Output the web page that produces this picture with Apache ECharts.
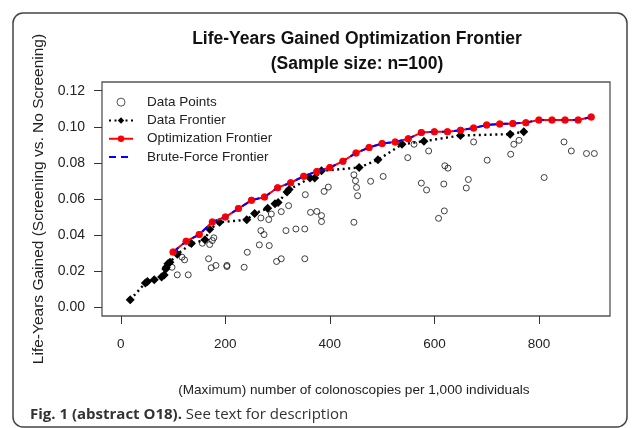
<!DOCTYPE html>
<html>
<head>
<meta charset="utf-8">
<script src="https://cdn.jsdelivr.net/npm/echarts@6/dist/echarts.min.js"></script>
<style>
  html, body { margin: 0; padding: 0; background: #fff; }
  #main { width: 632px; height: 428px; }
</style>
</head>
<body>
<div id="main"></div>
<script>
// 数据：数值

// 散点（Data Points）
let pointsX = [98, 117, 122, 108, 129, 156, 170, 168, 173, 175, 178, 182, 203, 203, 236, 242,
  265, 268, 268, 274, 283, 284, 288, 298, 307, 307, 316, 321, 335, 352, 352, 353, 363, 375,
  384, 384, 389, 397, 446, 446, 449, 451, 453, 478, 502, 549, 561, 575, 585, 589, 608, 619,
  618, 620, 626, 661, 665, 675, 701, 746, 752, 762, 810, 848, 862, 891, 906]
let pointsY = [0.0222, 0.0278, 0.0263, 0.018, 0.018, 0.0355, 0.0348, 0.0269, 0.0219, 0.037,
  0.0385, 0.0232, 0.0232, 0.0226, 0.0222, 0.0305, 0.0346, 0.0425, 0.0495, 0.0403, 0.0486,
  0.0342, 0.0517, 0.0254, 0.0269, 0.053, 0.0425, 0.0563, 0.0434, 0.0434, 0.0269, 0.0624,
  0.0526, 0.0531, 0.0508, 0.0475, 0.0642, 0.0666, 0.0471, 0.0734, 0.0701, 0.0664, 0.0618,
  0.0698, 0.0725, 0.0829, 0.0903, 0.0688, 0.065, 0.0866, 0.0493, 0.0534, 0.0683, 0.0784,
  0.0771, 0.0661, 0.0708, 0.0916, 0.0815, 0.0848, 0.0903, 0.0925, 0.0719, 0.0916, 0.0866,
  0.0852, 0.0852]

// 数据前沿（Data Frontier）
let frontierX = [18, 47, 51, 64, 78, 83, 86, 87, 90, 94, 108, 135, 161, 170, 189, 241, 256,
  281, 295, 301, 318, 322, 362, 371, 384, 456, 492, 538, 580, 650, 745, 771]
let frontierY = [0.0042, 0.0135, 0.0143, 0.0153, 0.0168, 0.0179, 0.0212, 0.0222, 0.0241,
  0.025, 0.0294, 0.0353, 0.0374, 0.0432, 0.0471, 0.0485, 0.052, 0.0549, 0.0574, 0.0581,
  0.0639, 0.0652, 0.0716, 0.0716, 0.0756, 0.0774, 0.0817, 0.0903, 0.092, 0.0952, 0.0959, 0.0973]

// 优化前沿 / 穷举前沿（每 25 次一个约束水平）
let levels = [100, 125, 150, 175, 200, 225, 250, 275, 300, 325, 350, 375, 400, 425, 450, 475,
  500, 525, 550, 575, 600, 625, 650, 675, 700, 725, 750, 775, 800, 825, 850, 875, 900]
let optY = [0.0306, 0.0366, 0.0403, 0.0473, 0.05, 0.0547, 0.0593, 0.0611, 0.0663, 0.069,
  0.0726, 0.0753, 0.0774, 0.0809, 0.0855, 0.0885, 0.0907, 0.0916, 0.0934, 0.0968, 0.0973,
  0.0973, 0.0981, 0.0993, 0.101, 0.1016, 0.1018, 0.1023, 0.1038, 0.1038, 0.1038, 0.1038, 0.1054]
let bruteY = [0.0306, 0.0366, 0.0403, 0.0473, 0.05, 0.0547, 0.0593, 0.0611, 0.0663, 0.069,
  0.0726, 0.0753, 0.0774, 0.0809, 0.0855, 0.0885, 0.0907, 0.0916, 0.0934, 0.0968, 0.0973,
  0.0973, 0.0981, 0.0993, 0.101, 0.1016, 0.1018, 0.1023, 0.1038, 0.1038, 0.1038, 0.1038, 0.1054]

const zip = (xs, ys) => xs.map((x, i) => [x, ys[i]])
const font = "'Liberation Sans', Arial, sans-serif"

// R 风格：框比数据范围各边多 4%
// grid 0 = 绘图框（画数据），grid 1 = y 轴刻度，grid 2 = x 轴刻度
const box = { left: 102, right: 22, top: 82, bottom: 112 }
const xlim = [-36, 936]
const ylim = [-0.0048, 0.1248]
const pxX = (632 - box.left - box.right) / (xlim[1] - xlim[0])
const pxY = (428 - box.top - box.bottom) / (ylim[1] - ylim[0])

var myChart = echarts.init(document.getElementById('main'))
var option = {
  animation: false,
  textStyle: { fontFamily: font },
  title: {
    text: 'Life-Years Gained Optimization Frontier\n(Sample size: n=100)',
    left: 352,
    top: 22,
    textAlign: 'center',
    textStyle: { fontSize: 17.5, fontWeight: 'bold', color: '#111', lineHeight: 25, fontFamily: font },
  },
  legend: {
    orient: 'vertical',
    left: 108,
    top: 95,
    padding: 0,
    itemWidth: 24,
    itemHeight: 8,
    itemGap: 4,
    textStyle: { fontSize: 13.5, color: '#222', lineHeight: 14.3, padding: [0, 0, 0, 9], fontFamily: font },
    data: [
      { name: 'Data Points', itemStyle: { borderWidth: 0.9 } },
      'Data Frontier',
      'Optimization Frontier',
      { name: 'Brute-Force Frontier', itemStyle: { opacity: 0 } },
    ],
  },
  grid: [
    { ...box, show: true, borderColor: '#555', borderWidth: 1.3 },
    {
      left: box.left, right: box.right,
      top: box.top + (ylim[1] - 0.12) * pxY,
      bottom: box.bottom + (0 - ylim[0]) * pxY,
    },
    {
      left: box.left + (0 - xlim[0]) * pxX,
      right: box.right + (xlim[1] - 800) * pxX,
      top: box.top, bottom: box.bottom,
    },
  ],
  xAxis: [
    { gridIndex: 0, type: 'value', min: xlim[0], max: xlim[1], show: false },
    { gridIndex: 1, type: 'value', show: false },
    {
      gridIndex: 2,
      type: 'value',
      min: 0, max: 800, interval: 200,
      splitLine: { show: false },
      axisLine: { show: false },
      axisTick: { show: true, length: 8, lineStyle: { color: '#333' } },
      axisLabel: { fontSize: 13.5, color: '#222', margin: 21 },
      name: '(Maximum) number of colonoscopies per 1,000 individuals',
      nameLocation: 'middle',
      nameGap: 67,
      nameTextStyle: { fontSize: 13.6, color: '#222', padding: [0, 0, 0, 48] },
    },
  ],
  yAxis: [
    { gridIndex: 0, type: 'value', min: ylim[0], max: ylim[1], show: false },
    {
      gridIndex: 1,
      type: 'value',
      min: 0, max: 0.12, interval: 0.02,
      splitLine: { show: false },
      axisLine: { show: false },
      axisTick: { show: true, length: 8, lineStyle: { color: '#333' } },
      axisLabel: { fontSize: 14, color: '#222', margin: 17, formatter: (v) => v.toFixed(2) },
      name: 'Life-Years Gained (Screening vs. No Screening)',
      nameLocation: 'middle',
      nameGap: 50,
      nameTextStyle: { fontSize: 15.5, color: '#222' },
    },
    { gridIndex: 2, type: 'value', show: false },
  ],
  graphic: [
    {
      type: 'rect',
      shape: { x: 13, y: 13, width: 614, height: 414, r: 10 },
      style: { fill: 'none', stroke: '#444', lineWidth: 1.5 },
      silent: true,
    },
    {
      type: 'text',
      left: 30,
      top: 407.5,
      style: {
        text: '{b|Fig. 1 (abstract O18).} See text for description',
        fontFamily: "'Open Sans', sans-serif",
        fontSize: 15,
        fill: '#333',
        rich: { b: { fontWeight: 'bold', fontSize: 15, fontFamily: "'Open Sans', sans-serif", fill: '#333' } },
      },
    },
  ],
  series: [
    {
      name: 'Data Points',
      type: 'scatter',
      data: zip(pointsX, pointsY),
      symbol: 'circle',
      symbolSize: 6,
      itemStyle: { color: 'rgba(255,255,255,0)', borderColor: '#111', borderWidth: 1 },
      z: 2,
    },
    {
      name: 'Data Frontier',
      type: 'line',
      data: zip(frontierX, frontierY),
      symbol: 'diamond',
      symbolSize: 9,
      itemStyle: { color: '#000' },
      lineStyle: { color: '#000', width: 2.4, type: [2, 3.5] },
      z: 3,
    },
    {
      name: 'Optimization Frontier',
      type: 'line',
      data: zip(levels, optY),
      symbol: 'circle',
      symbolSize: 7,
      itemStyle: { color: '#ff0000' },
      lineStyle: { color: '#ff0000', width: 2 },
      z: 4,
    },
    {
      name: 'Brute-Force Frontier',
      type: 'line',
      data: zip(levels, bruteY),
      symbol: 'none',
      itemStyle: { color: '#0000ff' },
      lineStyle: { color: '#0000ff', width: 2, type: [7, 5] },
      z: 5,
    },
    {
      // 红点画在蓝色虚线之上
      name: 'Optimization Frontier',
      type: 'scatter',
      data: zip(levels, optY),
      symbol: 'circle',
      symbolSize: 7,
      itemStyle: { color: '#ff0000' },
      z: 6,
    },
  ],
}
myChart.setOption(option)
</script>
</body>
</html>
